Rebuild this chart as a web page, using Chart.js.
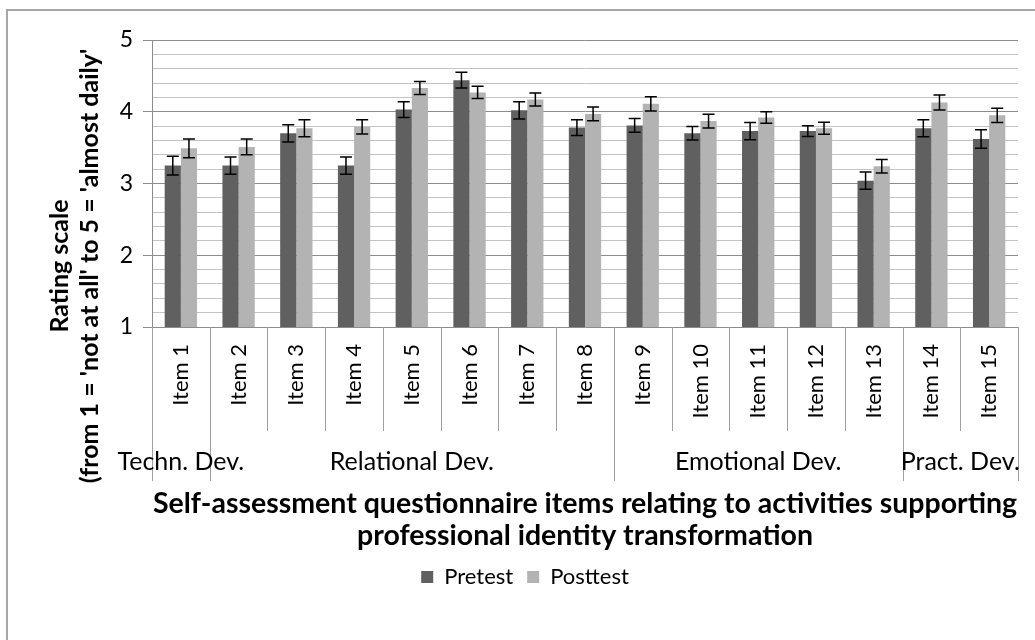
<!DOCTYPE html>
<html>
<head>
<meta charset="utf-8">
<script src="https://cdn.jsdelivr.net/npm/chart.js@4/dist/chart.umd.min.js"></script>
<style>
  html, body { margin: 0; padding: 0; background: #fff; }
  #wrap { width: 1035px; height: 640px; }
</style>
</head>
<body>
<div id="wrap"><canvas id="chart"></canvas></div>
<script>
const items = ['Item 1', 'Item 2', 'Item 3', 'Item 4', 'Item 5', 'Item 6', 'Item 7', 'Item 8',
  'Item 9', 'Item 10', 'Item 11', 'Item 12', 'Item 13', 'Item 14', 'Item 15'];

const pretest = [3.25, 3.25, 3.70, 3.25, 4.03, 4.44, 4.02, 3.78, 3.81, 3.70, 3.73, 3.73, 3.04, 3.77, 3.62];
const posttest = [3.49, 3.51, 3.77, 3.79, 4.33, 4.27, 4.17, 3.97, 4.11, 3.87, 3.92, 3.77, 3.24, 4.13, 3.95];

// half-length of the error bars
const pretestErr = [0.13, 0.12, 0.12, 0.12, 0.11, 0.11, 0.12, 0.11, 0.095, 0.095, 0.12, 0.075, 0.12, 0.12, 0.13];
const posttestErr = [0.13, 0.11, 0.12, 0.10, 0.09, 0.085, 0.09, 0.095, 0.10, 0.095, 0.08, 0.085, 0.095, 0.105, 0.10];

const groupNames = ['Techn. Dev.', 'Relational Dev.', 'Emotional Dev.', 'Pract. Dev.'];
const groupSizes = [1, 7, 5, 2];

const yTitle = ['Rating scale', "(from 1 = 'not at all' to 5 = 'almost daily'"];
const xTitle = ['Self-assessment questionnaire items relating to activities supporting',
  'professional identity transformation'];

Chart.defaults.font.family = 'Lato';
Chart.defaults.color = '#000';

const isWhole = v => Math.abs(v - Math.round(v)) < 1e-6;

// frame round the chart (only its left and top edges are in the picture)
const framePlugin = {
  id: 'frame',
  beforeDraw(chart) {
    const ctx = chart.ctx;
    ctx.save();
    ctx.strokeStyle = '#a6a6a6';
    ctx.lineWidth = 2;
    ctx.strokeRect(7, 10, 1200, 1200);
    ctx.restore();
  }
};

const errorBars = {
  id: 'errorBars',
  afterDatasetsDraw(chart) {
    const ctx = chart.ctx;
    const y = chart.scales.y;
    const errs = [pretestErr, posttestErr];
    ctx.save();
    ctx.strokeStyle = '#000';
    ctx.lineWidth = 1.5;
    chart.data.datasets.forEach((ds, i) => {
      chart.getDatasetMeta(i).data.forEach((bar, j) => {
        const v = ds.data[j], e = errs[i][j];
        const hi = y.getPixelForValue(v + e), lo = y.getPixelForValue(v - e);
        ctx.beginPath();
        ctx.moveTo(bar.x, hi); ctx.lineTo(bar.x, lo);
        ctx.moveTo(bar.x - 6, hi); ctx.lineTo(bar.x + 6, hi);
        ctx.moveTo(bar.x - 6, lo); ctx.lineTo(bar.x + 6, lo);
        ctx.stroke();
      });
    });
    ctx.restore();
  }
};

// item separators, group separators and group names under the x axis
const groupAxis = {
  id: 'groupAxis',
  afterDraw(chart) {
    const ctx = chart.ctx;
    const x = chart.scales.x;
    const top = chart.chartArea.bottom;
    const half = (x.getPixelForValue(1) - x.getPixelForValue(0)) / 2;
    const edge = k => x.getPixelForValue(k) - half;
    ctx.save();
    ctx.strokeStyle = '#a0a0a0';
    ctx.lineWidth = 1;
    const bounds = [0];
    groupSizes.forEach(s => bounds.push(bounds[bounds.length - 1] + s));
    for (let k = 0; k <= items.length; k++) {
      const px = Math.round(edge(k)) + 0.5;
      ctx.beginPath();
      ctx.moveTo(px, top);
      ctx.lineTo(px, top + (bounds.includes(k) ? 154 : 104));
      ctx.stroke();
    }
    ctx.fillStyle = '#000';
    ctx.font = '25px Lato';
    ctx.textAlign = 'center';
    ctx.textBaseline = 'middle';
    groupNames.forEach((g, i) => {
      const c = (edge(bounds[i]) + edge(bounds[i + 1])) / 2;
      ctx.fillText(g, c, top + 135);
    });
    ctx.restore();
  }
};

const yTitlePlugin = {
  id: 'yTitle',
  afterDraw(chart) {
    const ctx = chart.ctx;
    ctx.save();
    ctx.fillStyle = '#000';
    ctx.font = 'bold 25px Lato';
    ctx.textAlign = 'center';
    ctx.textBaseline = 'middle';
    ctx.translate(0, 266);
    ctx.rotate(-Math.PI / 2);
    ctx.fillText(yTitle[0], 0, 60);
    ctx.fillText(yTitle[1], 0, 90);
    ctx.restore();
  }
};

new Chart(document.getElementById('chart'), {
  type: 'bar',
  data: {
    labels: items,
    datasets: [
      { label: 'Pretest', data: pretest, backgroundColor: '#606060' },
      { label: 'Posttest', data: posttest, backgroundColor: '#b3b3b3' }
    ]
  },
  options: {
    responsive: true,
    maintainAspectRatio: false,
    animation: false,
    layout: { padding: { left: 32, right: 17, top: 40, bottom: 42 } },
    datasets: { bar: { categoryPercentage: 0.56, barPercentage: 1.0 } },
    plugins: {
      tooltip: { enabled: false },
      legend: {
        position: 'bottom',
        labels: { boxWidth: 12, boxHeight: 12, padding: 14, font: { size: 22 }, color: '#000' }
      }
    },
    scales: {
      x: {
        grid: { display: false },
        border: { display: false },
        ticks: { autoSkip: false, minRotation: 90, maxRotation: 90, padding: 9, font: { size: 22 }, color: '#000' },
        title: { display: true, text: xTitle, font: { size: 28.5, weight: 'bold', lineHeight: 1.123 }, padding: { top: 0, bottom: 0 }, color: '#000' },
        afterFit: s => { s.height = 225; }
      },
      y: {
        min: 1,
        max: 5,
        ticks: {
          stepSize: 0.2,
          autoSkip: false,
          padding: 10,
          font: { size: 23 },
          color: '#000',
          callback: v => isWhole(v) ? Math.round(v) : ''
        },
        grid: {
          color: c => isWhole(c.tick.value) ? '#8c8c8c' : '#c4c4c4',
          tickColor: c => isWhole(c.tick.value) ? '#8c8c8c' : 'rgba(0,0,0,0)',
          tickLength: 9,
          lineWidth: 1
        },
        border: { color: '#8c8c8c' },
        afterFit: s => { s.width = 120; }
      }
    }
  },
  plugins: [framePlugin, errorBars, groupAxis, yTitlePlugin]
});
</script>
</body>
</html>
